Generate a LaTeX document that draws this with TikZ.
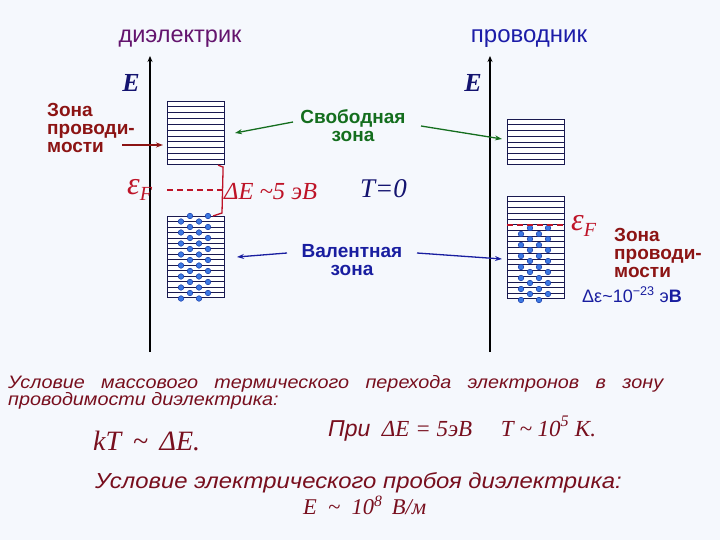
\documentclass[tikz,border=0pt]{standalone}
\usepackage{fontspec}
\setmainfont{Liberation Serif}
\setsansfont{Liberation Sans}
\newfontfamily\widesans[FakeStretch=1.1]{Liberation Sans}
\usetikzlibrary{calc,arrows.meta}
\definecolor{bg}{RGB}{245,248,253}
\definecolor{purp}{RGB}{100,20,110}
\definecolor{hblue}{RGB}{28,28,168}
\definecolor{navy}{RGB}{20,20,112}
\definecolor{dred}{RGB}{140,20,20}
\definecolor{zgreen}{RGB}{20,110,30}
\definecolor{vblue}{RGB}{25,30,160}
\definecolor{fred}{RGB}{190,20,40}
\definecolor{maroon}{RGB}{120,15,30}
\definecolor{linec}{RGB}{25,25,80}
\definecolor{dotfill}{RGB}{60,120,225}
\definecolor{dotdraw}{RGB}{25,60,170}
\newcommand{\tl}{\textasciitilde}
\tikzset{
  bandbox/.style={draw=linec, line width=1.1pt, fill=white, inner sep=0pt, anchor=north west},
  bandline/.style={draw=linec, line width=0.7pt},
  electron/.style={fill=dotfill, draw=dotdraw, line width=0.5pt},
  axis/.style={draw=black, line width=1.6pt, -{Stealth[length=6pt,width=5pt]}},
  lbl/.style={font=\fontsize{19}{18}\selectfont\sffamily\bfseries, align=center, inner sep=0pt},
  lblL/.style={font=\fontsize{19}{18}\selectfont\sffamily\bfseries, align=left, inner sep=0pt},
  pointer/.style={line width=1.3pt, -{Stealth[length=7pt,width=5pt]}},
  fermi/.style={draw=fred, line width=1.8pt, dash pattern=on 6pt off 4pt},
  txt/.style={inner sep=0pt, anchor=base west},
}
\begin{document}
\begin{tikzpicture}[x=1pt,y=-1pt]
\useasboundingbox (0,0) rectangle (720,540);
\fill[bg] (0,0) rectangle (720,540);

% headers
\node[txt, anchor=base, text=purp, font=\fontsize{23.5}{24}\selectfont\sffamily] (hdiel) at (180,43) {диэлектрик};
\node[txt, anchor=base, text=hblue, font=\fontsize{24}{24}\selectfont\sffamily] (hcond) at (529,43) {проводник};

% axes
\coordinate (ax1b) at (150,352);
\coordinate (ax1t) at (150,56);
\coordinate (ax2b) at (490,352);
\coordinate (ax2t) at (490,56);
\draw[axis] (ax1b) -- (ax1t);
\draw[axis] (ax2b) -- (ax2t);
\node[txt, anchor=base, text=navy, font=\fontsize{26}{26}\selectfont\bfseries\itshape] (E1) at (131,92) {E};
\node[txt, anchor=base, text=navy, font=\fontsize{26}{26}\selectfont\bfseries\itshape] (E2) at (473,92) {E};

% dielectric bands
\node[bandbox, minimum width=57pt, minimum height=63pt] (LT) at (167,101) {};
\foreach \i in {1,...,10}
  \draw[bandline] ($(LT.north west)!\i/11!(LT.south west)$) -- ($(LT.north east)!\i/11!(LT.south east)$);
\node[bandbox, minimum width=57pt, minimum height=81pt] (LB) at (167,216) {};
\foreach \i in {1,...,14}
  \draw[bandline] ($(LB.north west)!\i/15!(LB.south west)$) -- ($(LB.north east)!\i/15!(LB.south east)$);
\foreach \k in {0,...,7}{
  \fill[electron] (190,216+11*\k) circle (2.8);
  \fill[electron] (208,216+11*\k) circle (2.8);
  \fill[electron] (181,221.5+11*\k) circle (2.8);
  \fill[electron] (199,221.5+11*\k) circle (2.8);
}

% conductor bands
\node[bandbox, minimum width=57pt, minimum height=45pt] (RT) at (507,119) {};
\foreach \i in {1,...,7}
  \draw[bandline] ($(RT.north west)!\i/8!(RT.south west)$) -- ($(RT.north east)!\i/8!(RT.south east)$);
\node[bandbox, minimum width=57pt, minimum height=102pt] (RB) at (507,196) {};
\foreach \i in {1,...,17}
  \draw[bandline] ($(RB.north west)!\i/18!(RB.south west)$) -- ($(RB.north east)!\i/18!(RB.south east)$);
\foreach \k in {0,...,6}{
  \fill[electron] (530,228+11*\k) circle (2.8);
  \fill[electron] (548,228+11*\k) circle (2.8);
  \fill[electron] (521,234+11*\k) circle (2.8);
  \fill[electron] (539,234+11*\k) circle (2.8);
}

% Fermi levels
\coordinate (fl1) at (167,190);
\coordinate (fl2) at (222,190);
\draw[fermi] (fl1) -- (fl2);
\coordinate (fr1) at (507,225);
\coordinate (fr2) at (564,225);
\draw[fermi] (fr1) -- (fr2);
\node[txt, text=fred] (eF1) at (127,195) {\fontsize{32}{32}\selectfont\itshape ε\raisebox{-6pt}{\fontsize{20}{20}\selectfont F}};
\node[txt, text=fred] (eF2) at (571,230) {\fontsize{32}{32}\selectfont\itshape ε\raisebox{-6pt}{\fontsize{20}{20}\selectfont F}};

% gap bracket
\draw[fred, line width=1.3pt] (LT.south east) ++(-7,0) -- ++(5,2) -- (222,213) -- (213,216);
\node[txt, text=fred, font=\fontsize{24.5}{24}\selectfont\itshape] (dE) at (224,200) {ΔE \tl5 эВ};
\node[txt, text=navy, font=\fontsize{27}{27}\selectfont\itshape] (T0) at (360,197) {T=0};

% labels
\node[lblL, text=dred, anchor=north west] (zL) at (47,103) {Зона\\проводи-\\мости};
\node[lblL, text=dred, anchor=north west] (zR) at (614,228) {Зона\\проводи-\\мости};
\node[lbl, text=zgreen, anchor=north] (free) at (353,109) {Свободная\\зона};
\node[lbl, text=vblue, anchor=north] (val) at (352,244) {Валентная\\зона};
\node[txt, text=vblue, font=\fontsize{18}{18}\selectfont\sffamily] (dEps) at (582,302) {Δε\tl10\textsuperscript{−23} э\textbf{В}};

% pointers
\coordinate (pzL) at (163,145);
\draw[pointer, dred] (122,145) -- (pzL);
\coordinate (pf1) at (235,133);
\coordinate (pf2) at (502,139);
\draw[pointer, zgreen] (293,122) -- (pf1);
\draw[pointer, zgreen] (421,126) -- (pf2);
\coordinate (pv1) at (237,257);
\coordinate (pv2) at (502,259);
\draw[pointer, vblue] (287,253) -- (pv1);
\draw[pointer, vblue] (417,253) -- (pv2);

% bottom text
\node[inner sep=0pt, anchor=north west, text width=655pt, align=justify, text=maroon,
      font=\fontsize{18}{17.5}\selectfont\widesans\itshape] (cond1) at (8,375)
  {\hyphenpenalty=10000\relax Условие массового термического перехода электронов в зону\linebreak проводимости диэлектрика:};
\node[txt, text=maroon, font=\fontsize{28}{28}\selectfont\itshape] (kt) at (93,450) {kT\,\ \tl\ \,ΔE.};
\node[txt, text=maroon, font=\fontsize{23}{23}\selectfont\itshape] (pri) at (328,436) {{\sffamily При}\ \ ΔE = 5эВ \quad T \tl\ 10\textsuperscript{5} K.};
\node[txt, text=maroon, font=\fontsize{21.7}{22}\selectfont\widesans\itshape] (cond2) at (95,488) {Условие электрического пробоя диэлектрика:};
\node[txt, text=maroon, font=\fontsize{22.5}{23}\selectfont\itshape] (Eb) at (303,514) {E \ \tl\ \ 10\textsuperscript{8} \,В/м};
\end{tikzpicture}
\end{document}
